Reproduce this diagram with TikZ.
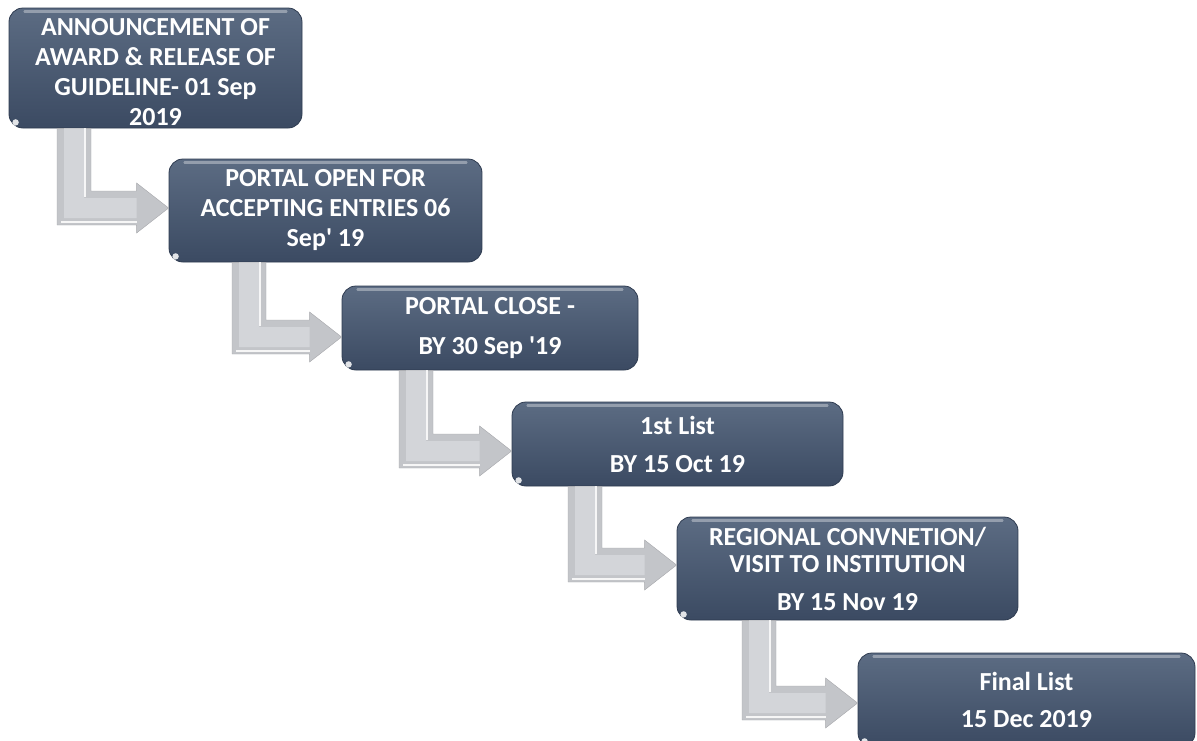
\documentclass[tikz,border=0pt]{standalone}
\usepackage{fontspec}
\setmainfont{Carlito}
\newfontfamily\stagefont{Carlito}
\usetikzlibrary{calc}
\definecolor{boxtop}{HTML}{5C6C83}
\definecolor{boxbot}{HTML}{3B4A62}
\definecolor{boxedge}{HTML}{2E3B50}
\definecolor{arrowout}{HTML}{C3C5C9}
\definecolor{arrowin}{HTML}{D3D5D9}
\tikzset{
  stage/.style={rectangle, rounded corners=14pt, top color=boxtop, bottom color=boxbot,
    draw=boxedge, line width=0.8pt, text=white, align=center, inner sep=0pt,
    font=\stagefont\bfseries\fontsize{26}{30}\selectfont},
  stagetext/.style={text=white, align=center, inner sep=0pt,
    font=\stagefont\bfseries\fontsize{26}{30}\selectfont},
  gloss/.style={white, opacity=0.35, line width=2.5pt, line cap=round},
  blob/.style={white, opacity=0.85},
  arrowbody/.style={fill=arrowout, draw=arrowout!85!black, line width=0.4pt},
  arrowface/.style={fill=arrowin},
  arrowlight/.style={white, line width=1.6pt, opacity=0.85},
}
% #1 source node, #2 target node, #3 stem left x, #4 tip y
\newcommand\bentarrow[4]{%
  \path[arrowbody] let \p1=(#1.south), \p2=(#2.west) in
    (#3pt,\y1) -- ({#3pt+34pt},\y1) -- ({#3pt+34pt},{-#4pt+17pt})
    -- ({\x2-32pt},{-#4pt+17pt}) -- ({\x2-32pt},{-#4pt+25pt}) -- (\x2,-#4pt)
    -- ({\x2-32pt},{-#4pt-25pt}) -- ({\x2-32pt},{-#4pt-17pt})
    -- (#3pt,{-#4pt-17pt}) -- cycle;
  \path[arrowface] let \p1=(#1.south), \p2=(#2.west) in
    ({#3pt+7pt},\y1) -- ({#3pt+27pt},\y1) -- ({#3pt+27pt},{-#4pt+10pt})
    -- ({\x2-32pt},{-#4pt+10pt}) -- ({\x2-32pt},{-#4pt-10pt})
    -- ({#3pt+7pt},{-#4pt-10pt}) -- cycle;
  \draw[arrowlight] let \p1=(#1.south), \p2=(#2.west) in
    ({#3pt+28pt},\y1) -- ({#3pt+28pt},{-#4pt+11pt});
  \draw[arrowlight] let \p1=(#1.south), \p2=(#2.west) in
    ({#3pt+4pt},{-#4pt-14pt}) -- ({\x2-32pt},{-#4pt-14pt});
}
\newcommand\shine[1]{%
  \draw[gloss] ($(#1.north west)+(16,4)$) -- ($(#1.north east)+(-16,4)$);
  \fill[blob] ($(#1.south west)+(7,-6)$) circle (3.2pt);
}
\begin{document}
\begin{tikzpicture}[x=1pt,y=-1pt]
\useasboundingbox (0,0) rectangle (1197,740);
\clip (0,0) rectangle (1197,740);

\node[stage, minimum width=293, minimum height=120] (b1) at (155.5,68) {};
\node[stagetext] (t1) at ($(b1.center)+(0,4)$)
  {ANNOUNCEMENT OF\\AWARD \& RELEASE OF\\GUIDELINE- 01 Sep\\2019};
\node[stage, minimum width=313, minimum height=103] (b2) at (325.5,210.5)
  {PORTAL OPEN FOR\\ACCEPTING ENTRIES 06\\Sep' 19};
\node[stage, minimum width=296, minimum height=84] (b3) at (490,328)
  {PORTAL CLOSE -\\[10pt]BY 30 Sep '19};
\node[stage, minimum width=331, minimum height=84] (b4) at (677.5,444)
  {1st List\\[8pt]BY 15 Oct 19};
\node[stage, minimum width=341, minimum height=103] (b5) at (847.5,568.5)
  {REGIONAL CONVNETION/\\[-3pt]VISIT TO INSTITUTION\\[8pt]BY 15 Nov 19};
\node[stage, minimum width=337, minimum height=94] (b6) at (1026.5,700)
  {Final List\\[7pt]15 Dec 2019};

\foreach \b in {b1,b2,b3,b4,b5,b6} {\shine{\b}}

\bentarrow{b1}{b2}{57}{208}
\bentarrow{b2}{b3}{232}{337}
\bentarrow{b3}{b4}{399}{451}
\bentarrow{b4}{b5}{568}{565}
\bentarrow{b5}{b6}{742}{703}
\end{tikzpicture}
\end{document}
